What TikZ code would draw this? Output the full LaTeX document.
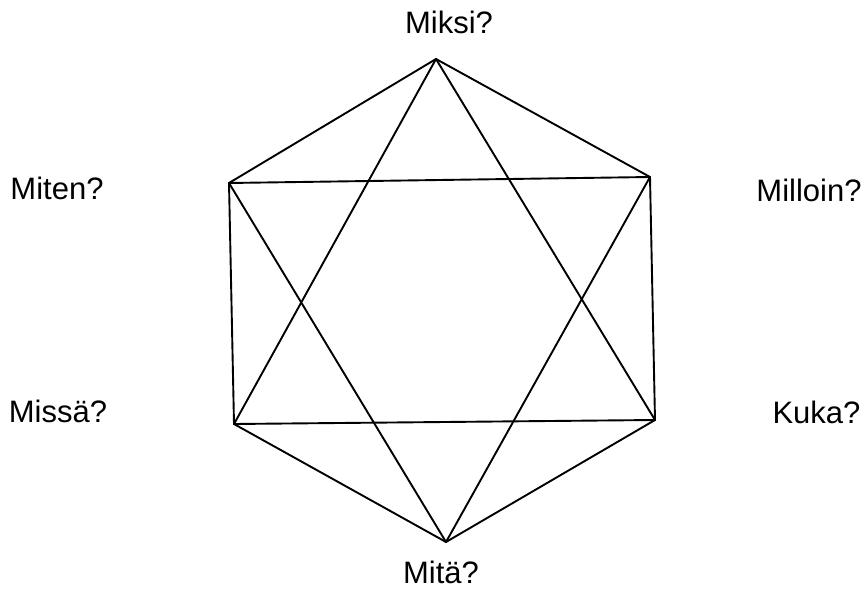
\documentclass[tikz,border=0pt]{standalone}
\usepackage{fontspec}
\setmainfont{Liberation Sans}
\usetikzlibrary{positioning}

\begin{document}
\begin{tikzpicture}[
  x=1pt, y=-1pt,
  question/.style={anchor=base, inner sep=0pt, font=\fontsize{31}{37}\selectfont},
  edge/.style={line width=1.9pt, line join=round}
]
\useasboundingbox (0,0) rectangle (865,591);

% Corners
\coordinate (top) at (436,59);
\coordinate (ur) at (650,177);
\coordinate (lr) at (655,420);
\coordinate (bot) at (446,542);
\coordinate (ll) at (234,424);
\coordinate (ul) at (229,183);

% Nodes
\node[question] (miksi) at (449,33.5) {Miksi?};
\node[question] (milloin) at (809,201.5) {Milloin?};
\node[question] (kuka) at (816.5,423) {Kuka?};
\node[question] (mita) at (441,583) {Mitä?};
\node[question] (missa) at (58,422) {Missä?};
\node[question] (miten) at (57,200) {Miten?};

% Lines
\draw[edge] (ul) -- (top) -- (ur) -- (lr) -- (bot) -- (ll) -- cycle;
\draw[edge] (top) -- (lr) -- (ll) -- cycle;
\draw[edge] (ul) -- (ur) -- (bot) -- cycle;

\end{tikzpicture}
\end{document}
